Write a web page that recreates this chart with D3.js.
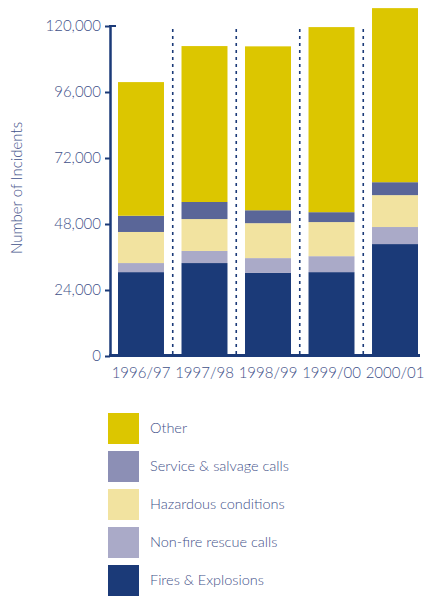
<!DOCTYPE html>
<html>
<head>
<meta charset="utf-8">
<script src="https://cdn.jsdelivr.net/npm/d3@7"></script>
<style>
  body { margin: 0; background: #fff; }
  text { font-family: "Lato", "Open Sans", sans-serif; font-weight: 300; fill: #3f5189; }
</style>
</head>
<body>
<svg id="chart"></svg>
<script>
// data
var years = ["1996/97", "1997/98", "1998/99", "1999/00", "2000/01"];
var fires = [30500, 33800, 30200, 30500, 40700];
var nonFire = [3300, 4400, 5400, 5800, 6200];
var hazardous = [11300, 11600, 12700, 12400, 11600];
var service = [5900, 6200, 4700, 3600, 4700];
var other = [48600, 56700, 59600, 67300, 63300];
var yTicks = [0, 24000, 48000, 72000, 96000, 120000];
var seriesNames = ["Other", "Service & salvage calls", "Hazardous conditions", "Non-fire rescue calls", "Fires & Explosions"];

var barColors = { "Fires & Explosions": "#1b3a78", "Non-fire rescue calls": "#aaaac8",
  "Hazardous conditions": "#f2e3a0", "Service & salvage calls": "#5a6698", "Other": "#dcc600" };
var legendColors = { "Fires & Explosions": "#1b3a78", "Non-fire rescue calls": "#aaaac8",
  "Hazardous conditions": "#f2e3a0", "Service & salvage calls": "#8c8fb5", "Other": "#dcc600" };
var axisColor = "#1b3a78";

var width = 426, height = 596;
var svg = d3.select("#chart").attr("width", width).attr("height", height);

// build table for the stack
var table = years.map(function(y, i) {
  return { year: y, "Fires & Explosions": fires[i], "Non-fire rescue calls": nonFire[i],
    "Hazardous conditions": hazardous[i], "Service & salvage calls": service[i], "Other": other[i] };
});
var keys = ["Fires & Explosions", "Non-fire rescue calls", "Hazardous conditions", "Service & salvage calls", "Other"];
var stacked = d3.stack().keys(keys)(table);

// scales
var x = d3.scaleBand().domain(years).range([110, 426]).paddingInner(0.276).paddingOuter(0.126);
var y = d3.scaleLinear().domain([0, 120000]).range([356, 26]);

// bars
svg.append("g").selectAll("g")
  .data(stacked)
  .join("g")
    .attr("fill", function(d) { return barColors[d.key]; })
  .selectAll("rect")
  .data(function(d) { return d; })
  .join("rect")
    .attr("x", function(d) { return x(d.data.year); })
    .attr("y", function(d) { return y(d[1]); })
    .attr("width", x.bandwidth())
    .attr("height", function(d) { return y(d[0]) - y(d[1]); });

// dotted separators between bars
var seps = years.slice(1).map(function(yr, i) {
  return (x(years[i]) + x.bandwidth() + x(yr)) / 2;
});
svg.append("g").selectAll("line")
  .data(seps)
  .join("line")
    .attr("x1", function(d) { return d; })
    .attr("x2", function(d) { return d; })
    .attr("y1", 29)
    .attr("y2", 355)
    .attr("stroke", axisColor)
    .attr("stroke-width", 1.6)
    .attr("stroke-dasharray", "3,4");

// y axis
var yAxis = svg.append("g")
  .attr("transform", "translate(110,0)")
  .call(d3.axisLeft(y).tickValues(yTicks).tickSize(5).tickSizeOuter(0).tickPadding(4)
    .tickFormat(d3.format(",")));
yAxis.select(".domain").attr("stroke", axisColor).attr("stroke-width", 2.5);
yAxis.selectAll(".tick line").attr("stroke", axisColor).attr("stroke-width", 2);
yAxis.selectAll(".tick text")
  .style("font-family", "Lato, 'Open Sans', sans-serif")
  .style("font-weight", 300)
  .style("font-size", "15px")
  .attr("fill", "#3f5189");
// top cap
svg.append("line")
  .attr("x1", 109).attr("x2", 116)
  .attr("y1", y(120000)).attr("y2", y(120000))
  .attr("stroke", axisColor).attr("stroke-width", 2);

// x axis
var xAxis = svg.append("g")
  .attr("transform", "translate(0,355)")
  .call(d3.axisBottom(x).tickSize(0).tickPadding(12));
xAxis.select(".domain").attr("stroke", axisColor).attr("stroke-width", 3)
  .attr("d", "M109,0.5H420");
xAxis.selectAll(".tick text")
  .style("font-family", "Lato, 'Open Sans', sans-serif")
  .style("font-weight", 300)
  .style("font-size", "15px")
  .attr("fill", "#3f5189");

// y axis title
svg.append("text")
  .attr("transform", "translate(22,188) rotate(-90)")
  .attr("text-anchor", "middle")
  .style("font-size", "15px")
  .text("Number of Incidents");

// legend
var legend = svg.append("g").selectAll("g")
  .data(seriesNames)
  .join("g")
    .attr("transform", function(d, i) { return "translate(108," + (413 + i * 38) + ")"; });
legend.append("rect")
  .attr("width", 31)
  .attr("height", 31)
  .attr("fill", function(d) { return legendColors[d]; });
legend.append("text")
  .attr("x", 42)
  .attr("y", 15)
  .attr("dy", "0.35em")
  .style("font-size", "14.5px")
  .text(function(d) { return d; });
</script>
</body>
</html>
